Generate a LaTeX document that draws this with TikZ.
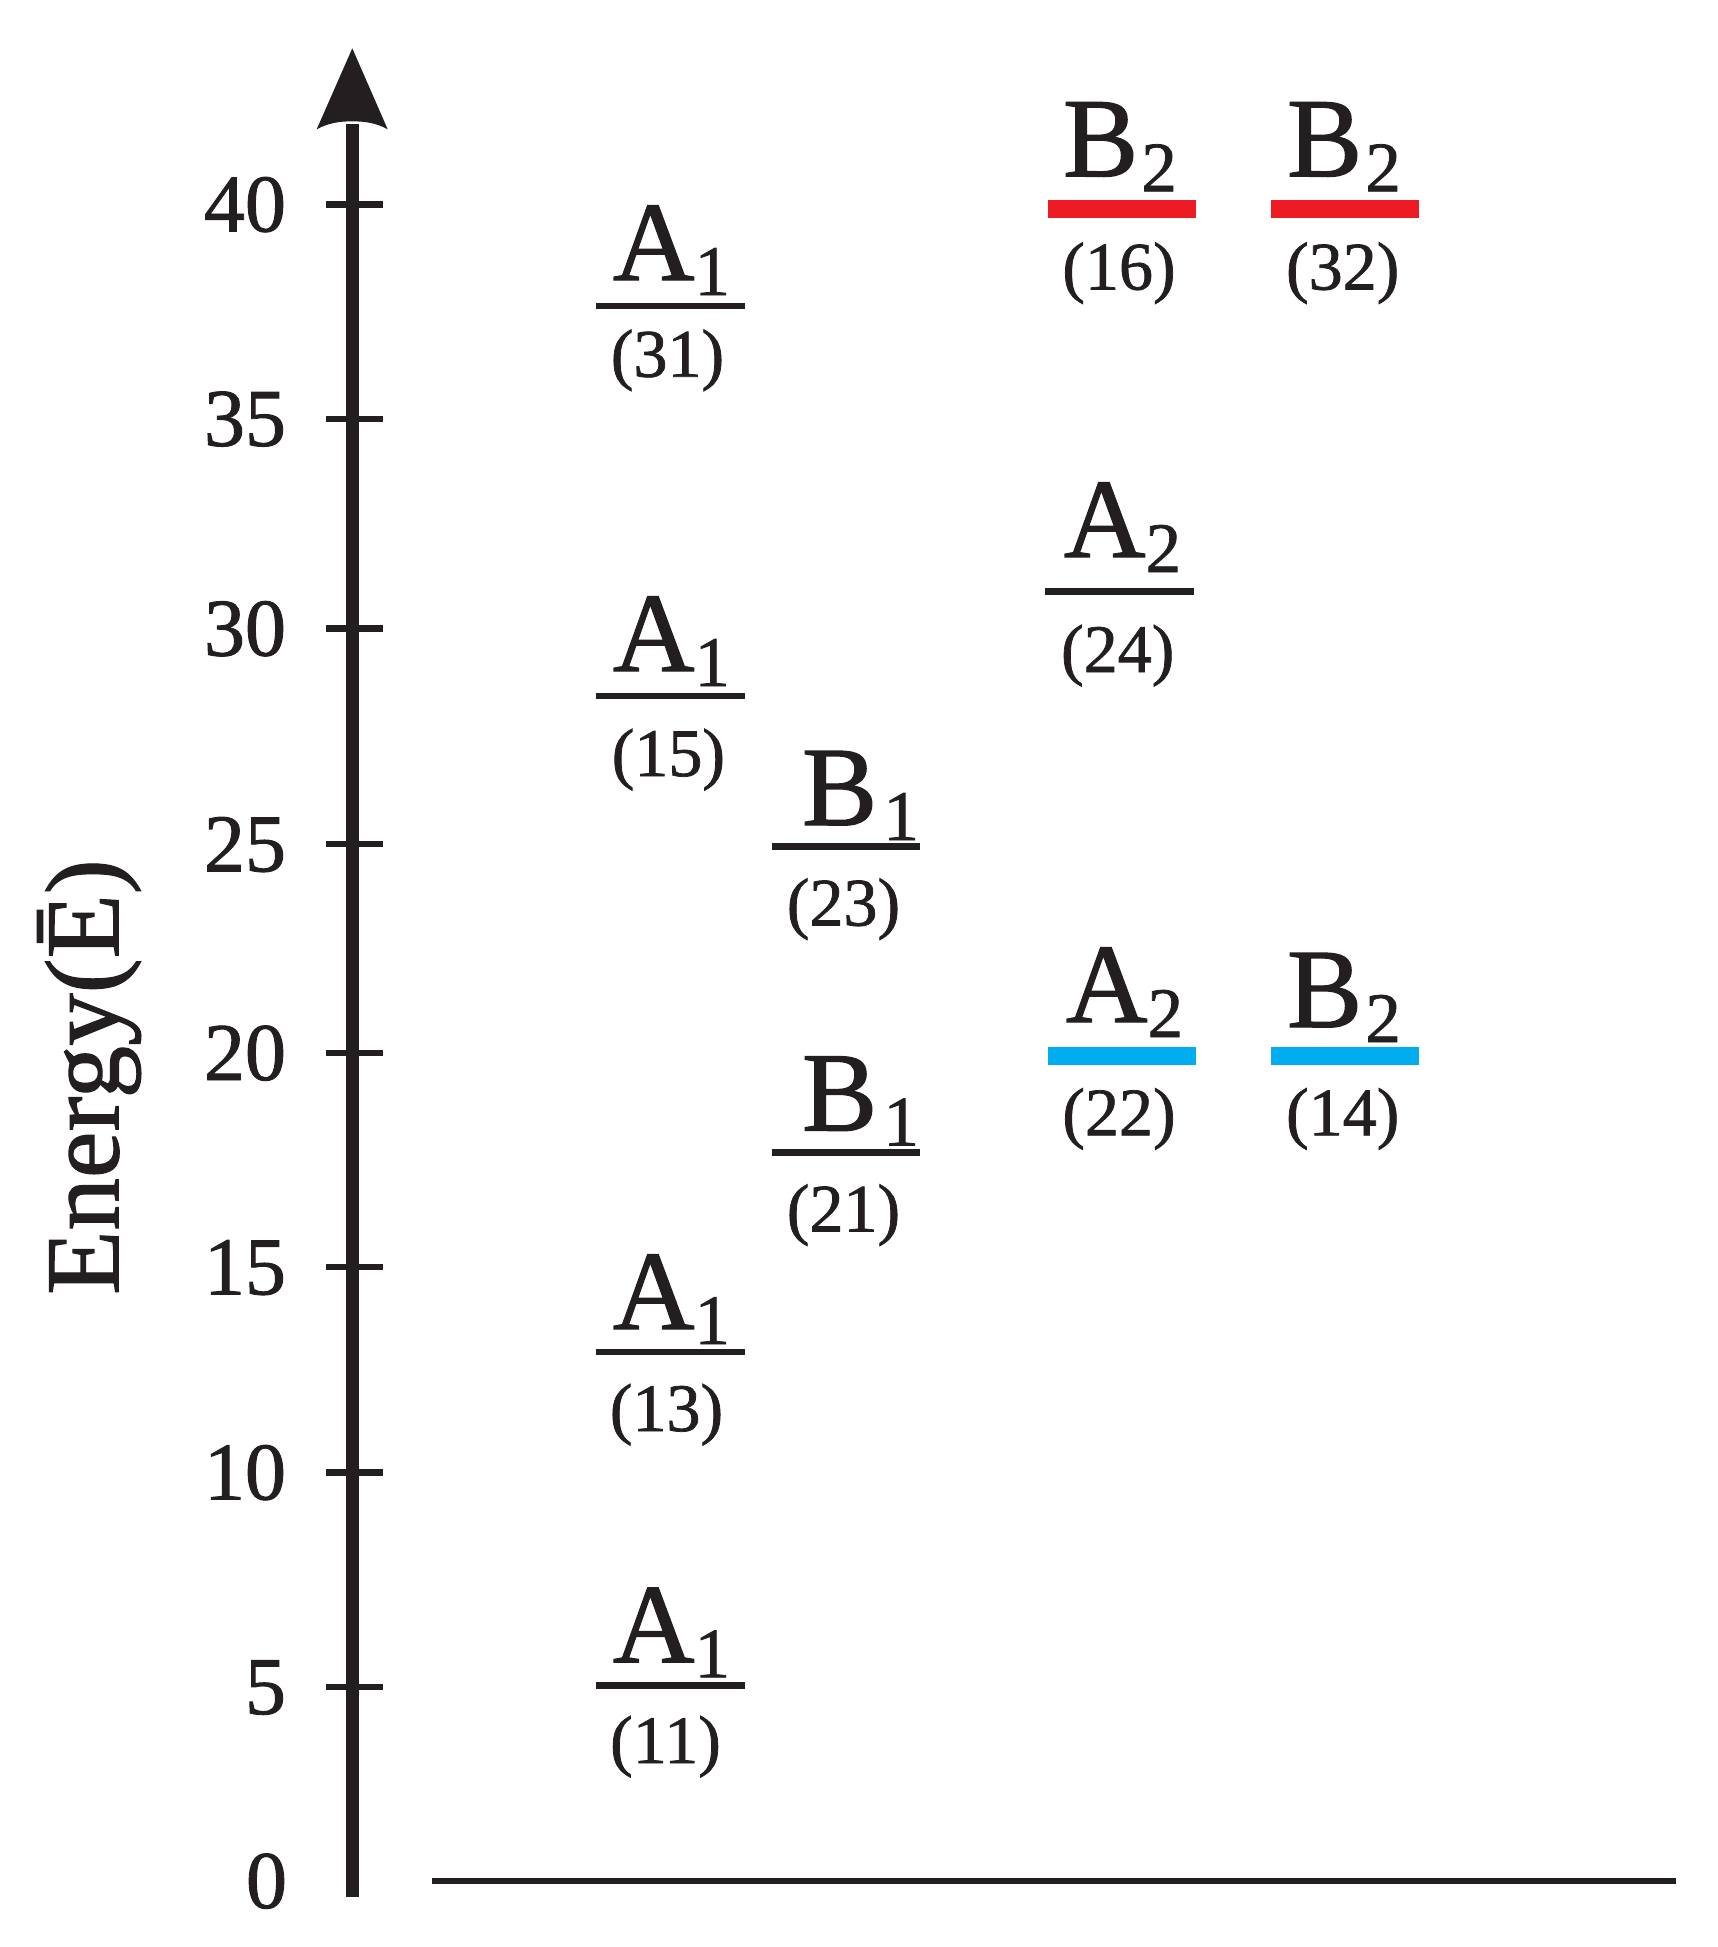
\documentclass[tikz,border=0pt]{standalone}
\usepackage{fontspec}
\setmainfont{Liberation Serif}
\newfontfamily\Lvfam{Liberation Serif}[FakeBold=1.1]
\definecolor{ink}{HTML}{231F20}
\definecolor{lvred}{HTML}{ED1C24}
\definecolor{lvblue}{HTML}{00AEEF}
\newcommand\Lvbig{\Lvfam\fontsize{113}{113}\selectfont}
\newcommand\Lvsub{\Lvfam\fontsize{71}{71}\selectfont}
\newcommand\Lvpar{\Lvfam\fontsize{68}{68}\selectfont}
\newcommand\Lvtick{\Lvfam\fontsize{82}{82}\selectfont}
\newcommand\Lvlab{\Lvfam\fontsize{105}{105}\selectfont}
\newcommand\Lvs[2][0pt]{\kern#1\raisebox{-15pt}{\Lvsub #2}}
\tikzset{
  sym/.style={inner sep=0pt, outer sep=0pt, text=ink, font=\Lvbig, anchor=base west},
  idx/.style={inner sep=0pt, outer sep=0pt, text=ink, font=\Lvpar, anchor=base},
  ticklab/.style={inner sep=0pt, outer sep=0pt, text=ink, font=\Lvtick, anchor=base east},
  level/.style={draw=ink, line width=6.3pt},
  redlevel/.style={draw=lvred, line width=18pt},
  bluelevel/.style={draw=lvblue, line width=18pt},
  axisline/.style={draw=ink, line width=12.5pt},
  tickmark/.style={draw=ink, line width=6.3pt},
}
\begin{document}
\begin{tikzpicture}[x=1pt,y=-1pt]
\useasboundingbox (0,0) rectangle (1718,1947);

% axis
\coordinate (axbot) at (352.3,1896.7);
\coordinate (axtop) at (352.3,124);
\draw[axisline] (axbot) -- (axtop);
\fill[ink] (352.3,48.3) -- (316.7,129.3) .. controls (328,123) and (340,121.3) .. (352.3,121.3)
  .. controls (364.6,121.3) and (376.6,123) .. (387.7,129.3) -- cycle;

% baseline
\coordinate (bl0) at (432.3,1881.3);
\coordinate (bl1) at (1676,1881.3);
\draw[ink, line width=6pt] (bl0) -- (bl1);

% ticks and labels
\foreach \v/\y in {40/204.5,35/418.8,30/628.6,25/844.3,20/1053,15/1267.3,10/1472.5,5/1687}{
  \draw[tickmark] (326,\y) -- (382.7,\y);
  \node[ticklab] (t\v) at (286,\y+27) {\v};
}
\node[ticklab] (t0) at (287,1908) {0};

% axis label
\node[inner sep=0pt, outer sep=0pt, text=ink, font=\Lvlab, rotate=90, anchor=base] (elab) at (118.3,1077) {Energy(Ē)};

% column 1: A1
\draw[level] (596,305.8) -- (745,305.8);
\node[sym] (s31) at (613,280) {A\Lvs{1}};
\node[idx] (n31) at (667.5,376.7) {(31)};

\draw[level] (596,695.7) -- (745,695.7);
\node[sym] (s15) at (613,671) {A\Lvs{1}};
\node[idx] (n15) at (668.4,776) {(15)};

\draw[level] (596,1352) -- (745,1352);
\node[sym] (s13) at (613,1329) {A\Lvs{1}};
\node[idx] (n13) at (666.5,1431) {(13)};

\draw[level] (596,1685.4) -- (745,1685.4);
\node[sym] (s11) at (613,1662.3) {A\Lvs{1}};
\node[idx] (n11) at (665.5,1763) {(11)};

% column 2: B1
\draw[level] (772,846.5) -- (920,846.5);
\node[sym] (s23) at (802,825) {B\Lvs[6pt]{1}};
\node[idx] (n23) at (843.5,925.5) {(23)};

\draw[level] (772,1152.4) -- (920,1152.4);
\node[sym] (s21) at (802,1130.5) {B\Lvs[6pt]{1}};
\node[idx] (n21) at (843.5,1231.5) {(21)};

% column 3
\draw[redlevel] (1048,208.5) -- (1196,208.5);
\node[sym] (s16) at (1063,176.3) {B\Lvs[3pt]{2}};
\node[idx] (n16) at (1119,289.5) {(16)};

\draw[ink, line width=7pt] (1045,591) -- (1194,591);
\node[sym] (s24) at (1064,557) {A\Lvs{2}};
\node[idx] (n24) at (1117.7,672) {(24)};

\draw[bluelevel] (1048,1055.5) -- (1196,1055.5);
\node[sym] (s22) at (1066,1022) {A\Lvs{2}};
\node[idx] (n22) at (1119,1135.3) {(22)};

% column 4
\draw[redlevel] (1271,208.5) -- (1418.5,208.5);
\node[sym] (s32) at (1287,176.3) {B\Lvs[3pt]{2}};
\node[idx] (n32) at (1342.7,289.5) {(32)};

\draw[bluelevel] (1271,1055.5) -- (1418.5,1055.5);
\node[sym] (s14) at (1287,1027) {B\Lvs[3pt]{2}};
\node[idx] (n14) at (1342.7,1135.3) {(14)};
\end{tikzpicture}
\end{document}
